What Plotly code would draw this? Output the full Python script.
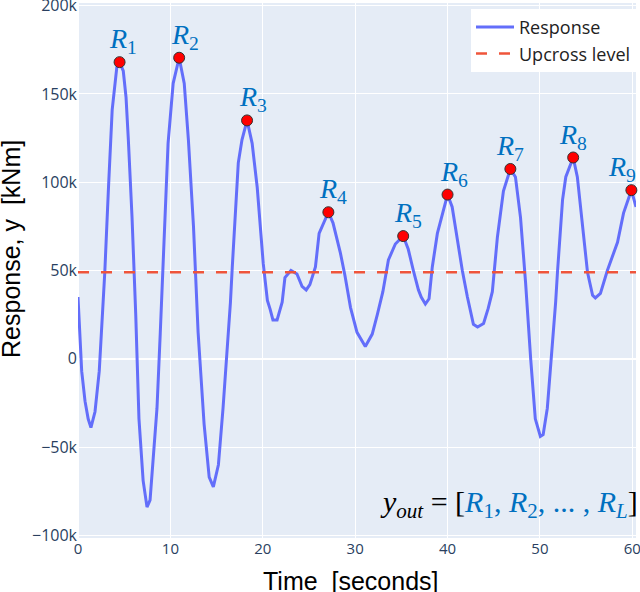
import plotly.graph_objects as go

# Response curve
time = [0, 0.4, 0.76, 1.1, 1.4, 1.84, 2.3, 2.6, 2.9, 3.3, 3.7, 4.2, 4.5, 4.9, 5.2, 5.45, 5.85, 6.25, 6.6, 7.05,
        7.47, 7.8, 8.15, 8.55, 8.9, 9.1, 9.75, 10.3, 10.95, 11.5, 11.95, 12.5, 13, 13.65, 14.2, 14.65, 15.2,
        15.7, 16.15, 16.5, 16.7, 17.35, 17.75, 18.3, 18.85, 19.4, 20.05, 20.5, 20.8, 21.1, 21.55, 22.1, 22.4,
        23.05, 23.7, 24.25, 24.7, 25.1, 25.7, 26.1, 27.1, 27.6, 28.4, 28.9, 29.5, 30.2, 31.1, 31.85, 32.4, 33,
        33.6, 34.35, 35.2, 35.75, 36.3, 36.85, 37.15, 37.6, 38, 38.35, 38.9, 40, 40.5, 41.05, 41.6, 42.15, 42.8,
        43.25, 43.9, 44.4, 44.85, 45.4, 46.05, 46.8, 47.35, 47.9, 48.45, 49, 49.5, 50.05, 50.35, 50.8, 51.25,
        51.7, 51.9, 52.45, 52.8, 53.6, 54.05, 54.6, 55.15, 55.7, 56, 56.55, 57.3, 58.4, 59.05, 59.9, 60.4]
response = [35000, -7000, -24000, -34000, -39000, -30000, -7000, 19000, 49000, 97000, 141000, 165000, 168000, 163000,
            148000, 124000, 80000, 25000, -34000, -69000, -84000, -80000, -58000, -28000, 14000, 38000, 122000,
            156000, 170500, 156000, 124000, 75000, 15000, -37000, -67000, -72500, -60000, -28000, 4000, 32000,
            52000, 111000, 124000, 135000, 122000, 97000, 54000, 33000, 28000, 22000, 22000, 32000, 46000, 50000,
            48000, 41000, 39000, 42000, 52000, 71000, 83000, 77000, 60000, 47000, 29000, 15000, 7000, 14000, 25000,
            38000, 56000, 65000, 69500, 62000, 50000, 39000, 35000, 31000, 34000, 52000, 71000, 93000, 86000, 67000,
            50000, 35000, 19500, 18000, 20000, 28500, 38000, 69000, 95000, 107500, 103000, 80000, 43000, 0, -34000,
            -44000, -43000, -28000, 0, 32000, 49000, 90000, 103000, 114000, 103000, 75000, 49000, 36000, 34500,
            37000, 50000, 66000, 82500, 95500, 86000]

# Peaks between upcrossings
peak_time = [4.5, 10.95, 18.3, 27.1, 35.2, 40, 46.8, 53.6, 59.9]
peak_value = [168000, 170500, 135000, 83000, 69500, 93000, 107500, 114000, 95500]
peak_names = ["1", "2", "3", "4", "5", "6", "7", "8", "9"]
upcross_level = 49000

x_ticks = [0, 10, 20, 30, 40, 50, 60]
y_ticks = [-100000, -50000, 0, 50000, 100000, 150000, 200000]

BLUE = "#0070C0"
SERIF = "Liberation Serif"
title_font = dict(family="Liberation Sans", size=25, color="black")

fig = go.Figure()
fig.add_trace(go.Scatter(x=time, y=response, mode="lines", name="Response",
                         line=dict(color="#636EFA", width=3)))
fig.add_trace(go.Scatter(x=[0, 60.4], y=[upcross_level, upcross_level], mode="lines", name="Upcross level",
                         line=dict(color="#EF553B", width=2.5, dash="11px,12px")))
fig.add_trace(go.Scatter(x=peak_time, y=peak_value, mode="markers", showlegend=False, cliponaxis=False,
                         marker=dict(color="red", size=11, line=dict(color="#333333", width=1))))

# the R labels do not sit exactly over their peaks
label_shift = [3, 6, 6, 5, 5, 6, 0, 0, -9]
for t, v, n, s in zip(peak_time, peak_value, peak_names, label_shift):
    fig.add_annotation(x=t, y=v, xshift=s, yshift=2, yanchor="bottom", showarrow=False,
                       text="<i>R</i><sub>" + n + "</sub>",
                       font=dict(family=SERIF, size=28, color=BLUE))


def r(sub):
    return "<span style='color:" + BLUE + "'><i>R</i><sub>" + sub + "</sub></span>"


fig.add_annotation(xref="paper", yref="paper", x=1.008, y=0.024, xanchor="right", yanchor="bottom", showarrow=False,
                   text="<i>y</i><sub><i>out</i></sub> = [" + r("1") + "<span style='color:" + BLUE + "'>,</span> "
                        + r("2") + "<span style='color:" + BLUE + "'>, ... ,</span> " + r("<i>L</i>") + "]",
                   font=dict(family=SERIF, size=30, color="black"))

# axis titles are off centre in the original, so they go in as annotations
fig.add_annotation(xref="paper", yref="paper", x=0.489, y=-0.11, showarrow=False,
                   text="Time\u00a0 [seconds]", font=title_font)
fig.add_annotation(xref="paper", yref="paper", x=-0.149, y=0.54, showarrow=False, textangle=-90,
                   text="Response, y\u00a0 [kNm]", font=title_font)

fig.update_layout(
    width=640, height=592,
    margin=dict(l=78, r=4, t=3, b=54),
    font=dict(family="Open Sans"),
    legend=dict(x=1.0, y=0.989, xanchor="right", yanchor="top", bgcolor="white", itemwidth=38,
                font=dict(size=18, color="#222222"), tracegroupgap=0),
)
fig.update_xaxes(range=[0, 60.4], tickvals=x_ticks, tickfont=dict(size=15), ticklabeloverflow="allow",
                 automargin=False)
fig.update_yaxes(range=[-101500, 201500], tickvals=y_ticks, tickfont=dict(size=16), zerolinewidth=2,
                 ticklabeloverflow="allow", automargin=False)

# the page's default body margin would push the plot 8px down and right
fig.write_html("out.html", config=dict(displayModeBar=False), post_script="document.body.style.margin = '0';")
